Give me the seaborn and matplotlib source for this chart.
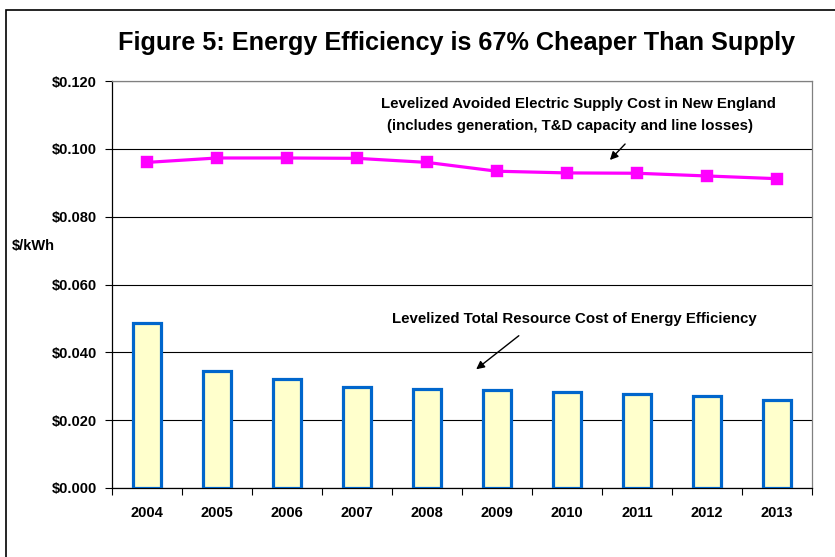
import matplotlib
matplotlib.use("Agg")
import matplotlib.pyplot as plt
import seaborn as sns
import pandas as pd
from matplotlib.patches import Rectangle

years = ["2004", "2005", "2006", "2007", "2008", "2009", "2010", "2011", "2012", "2013"]
ee_cost = [0.0486, 0.0346, 0.0322, 0.0299, 0.0293, 0.0290, 0.0282, 0.0276, 0.0272, 0.0260]
supply_cost = [0.0960, 0.0973, 0.0973, 0.0972, 0.0960, 0.0934, 0.0929, 0.0928, 0.0920, 0.0912]
y_ticks = [0.0, 0.02, 0.04, 0.06, 0.08, 0.10, 0.12]
y_labels = ["$0.000", "$0.020", "$0.040", "$0.060", "$0.080", "$0.100", "$0.120"]
title = "Figure 5: Energy Efficiency is 67% Cheaper Than Supply"
supply_note = ["Levelized Avoided Electric Supply Cost in New England",
               "(includes generation, T&D capacity and line losses)"]
ee_note = "Levelized Total Resource Cost of Energy Efficiency"

df = pd.DataFrame({"year": years, "ee": ee_cost, "supply": supply_cost})

sns.set_theme(style="white")
plt.rcParams["font.family"] = ["Liberation Sans", "DejaVu Sans"]
plt.rcParams["font.weight"] = "bold"
plt.rcParams["text.color"] = "black"
plt.rcParams["xtick.color"] = "black"
plt.rcParams["ytick.color"] = "black"
plt.rcParams["axes.labelcolor"] = "black"

W, H = 835, 557
fig = plt.figure(figsize=(W / 100, H / 100), dpi=100)
fig.patch.set_facecolor("white")
ax = fig.add_axes([112 / W, 1 - 488 / H, (812 - 112) / W, (488 - 81) / H])

sns.barplot(data=df, x="year", y="ee", color="#FFFFCC", edgecolor="#0066CC",
            linewidth=2.3, width=0.4, saturation=1, ax=ax, zorder=3)
sns.pointplot(data=df, x="year", y="supply", color="#FF00FF", markers="s",
              linestyles="-", errorbar=None, ax=ax, markersize=7.5, linewidth=2.3)

ax.set_xlim(-0.5, 9.5)
ax.set_ylim(0, 0.12)
ax.set_yticks(y_ticks)
ax.set_yticklabels(y_labels, fontsize=10.5, fontweight="bold", color="black")
ax.set_xticks(range(len(years)))
ax.set_xticklabels(years, fontsize=10.5, fontweight="bold", color="black")
ax.set_xticks([i - 0.5 for i in range(len(years) + 1)], minor=True)
ax.tick_params(axis="x", which="major", length=0, pad=13)
ax.tick_params(axis="x", which="minor", length=5, width=0.8, color="black", direction="out", bottom=True)
ax.tick_params(axis="y", which="major", length=5, width=0.8, color="black", direction="out", left=True, pad=6)
ax.set_xlabel("")
ax.set_ylabel("")
ax.yaxis.grid(True, color="black", linewidth=0.8)
ax.set_axisbelow(True)

for s in ["left", "bottom"]:
    ax.spines[s].set_color("black")
    ax.spines[s].set_linewidth(0.9)
ax.spines["right"].set_color("#808080")
ax.spines["right"].set_linewidth(0.9)
ax.spines["top"].set_color("#808080")
ax.spines["top"].set_linewidth(0.9)

fig.text(457 / W, 1 - 43 / H, title, ha="center", va="center", fontsize=18.2, fontweight="bold")
fig.text(12 / W, 1 - 246 / H, "$/kWh", ha="left", va="center", fontsize=10.5, fontweight="bold")

fig.text(578 / W, 1 - 104 / H, supply_note[0], ha="center", va="center", fontsize=10.8, fontweight="bold")
fig.text(570 / W, 1 - 126 / H, supply_note[1], ha="center", va="center", fontsize=10.8, fontweight="bold")
fig.text(574 / W, 1 - 319 / H, ee_note, ha="center", va="center", fontsize=10.8, fontweight="bold")

arrowprops = dict(arrowstyle="-|>", color="black", lw=1.0, mutation_scale=12)
ax.annotate("", xy=(608 / W, 1 - 162 / H), xytext=(627 / W, 1 - 142 / H),
            xycoords="figure fraction", textcoords="figure fraction", arrowprops=arrowprops)
ax.annotate("", xy=(474 / W, 1 - 371 / H), xytext=(521 / W, 1 - 334 / H),
            xycoords="figure fraction", textcoords="figure fraction", arrowprops=arrowprops)

fig.add_artist(Rectangle((6 / W, -0.2), 1.2, 1.2 - 10 / H, transform=fig.transFigure,
                         fill=False, edgecolor="black", linewidth=1.2, clip_on=False))

fig.savefig("out.png", dpi=100)
